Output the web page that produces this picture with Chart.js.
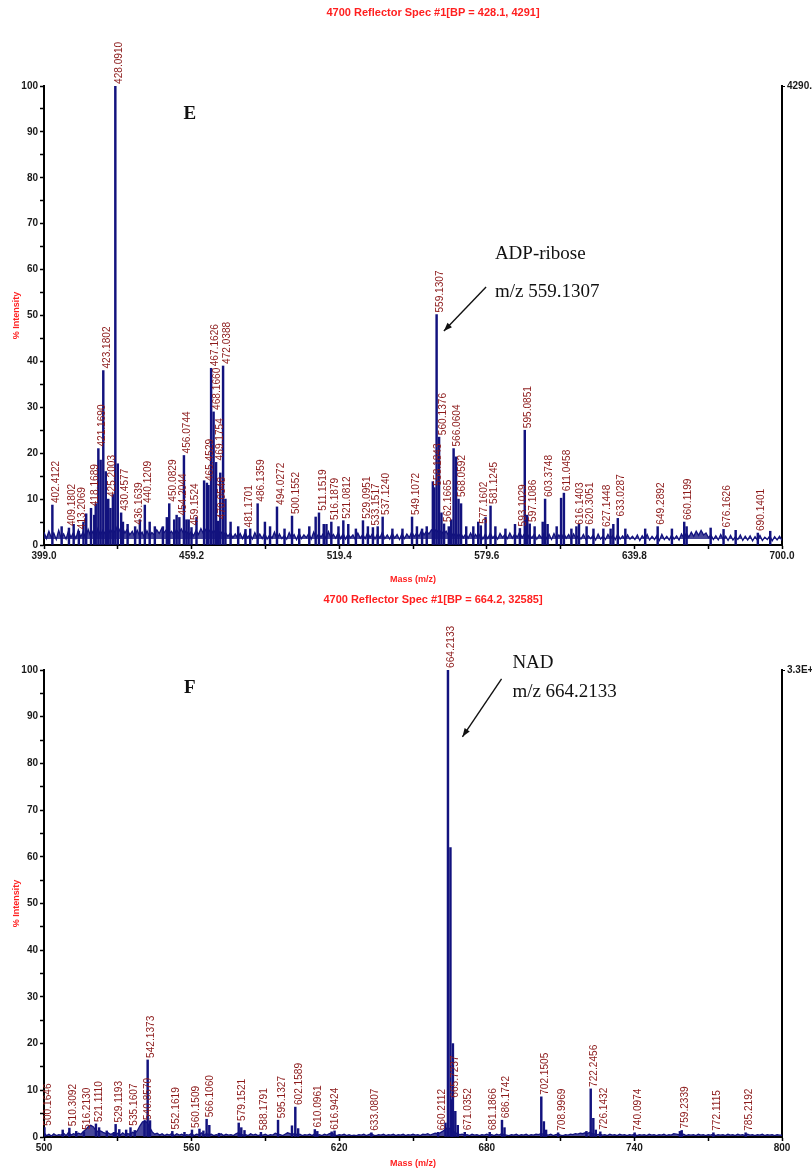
<!DOCTYPE html>
<html>
<head>
<meta charset="utf-8">
<title>MALDI spectra E and F</title>
<script src="https://cdn.jsdelivr.net/npm/chart.js@4.4.1/dist/chart.umd.min.js"></script>
<style>
  body { margin: 0; background: #fff; }
  .panel { position: absolute; left: 0; width: 812px; }
</style>
</head>
<body>
<div class="panel" style="top:0;height:585px"><canvas id="specE" width="812" height="585"></canvas></div>
<div class="panel" style="top:585px;height:584px"><canvas id="specF" width="812" height="584"></canvas></div>
<script>
// ---- panel E : 399.0 - 700.0 ----
const titleE = '4700 Reflector Spec #1[BP = 428.1, 4291]';
const xTicksE = [399.0, 429.1, 459.2, 489.3, 519.4, 549.5, 579.6, 609.7, 639.8, 669.9, 700.0];
const xTickLabelsE = ['399.0', '', '459.2', '', '519.4', '', '579.6', '', '639.8', '', '700.0'];
const rightLabelE = '4290.0';

// labelled peaks (m/z text, % intensity)
const labelledMzE = ['402.4122', '409.1802', '413.2069', '418.1689', '421.1690', '423.1802', '425.2003',
  '428.0910', '430.4577', '436.1639', '440.1209', '450.0829', '454.2044', '456.0744', '459.1524',
  '465.4529', '467.1626', '468.1660', '469.1754', '470.0548', '472.0388', '481.1701', '486.1359',
  '494.0272', '500.1552', '511.1519', '516.1879', '521.0812', '529.0951', '533.1517', '537.1240',
  '549.1072', '558.1843', '559.1307', '560.1376', '562.1665', '566.0604', '568.0592', '577.1602',
  '581.1245', '593.1029', '595.0851', '597.1086', '603.3748', '611.0458', '616.1403', '620.3051',
  '627.1448', '633.0287', '649.2892', '660.1199', '676.1626', '690.1401'];
const labelledIntE = [8.7, 3.7, 3.0, 8.0, 21, 38, 10,
  100, 7, 4, 8.7, 9, 6, 19.5, 3.8,
  13.5, 38.5, 29, 18, 5.2, 39, 3.4, 9,
  8.3, 6.3, 7, 5, 5.3, 5.3, 3.8, 6.1,
  6.1, 12.5, 50.2, 23.5, 4.6, 21, 10, 4.2,
  8.5, 3.6, 25, 4.6, 10, 11.3, 4, 4,
  3.5, 5.8, 4, 5, 3.4, 2.6];

// other sticks without a label
const otherMzE = [406.2, 411.1, 415.1, 416.2, 419.5, 420.1, 422.1, 424.2, 426.1, 427.1, 429.09, 431.2,
  433.1, 438.1, 442.1, 444.2, 447.5, 449.1, 452.1, 453.1, 457.1, 458.0, 461.2, 464.3, 466.1, 470.9,
  473.0, 475.1, 478.2, 483.1, 489.1, 491.2, 497.1, 503.1, 507.2, 509.8, 513.1, 514.2, 519.1, 523.1,
  526.2, 531.1, 535.1, 541.1, 545.2, 551.1, 553.2, 555.1, 557.6, 561.1, 564.1, 565.1, 567.06, 569.1,
  571.2, 574.1, 576.1, 579.1, 583.1, 587.2, 591.1, 596.1, 599.1, 602.4, 604.4, 608.1, 609.9, 614.1,
  617.2, 623.1, 630.1, 631.2, 636.1, 644.2, 655.1, 661.1, 670.9, 681.1, 695.2];
const otherIntE = [4, 4.5, 5, 6.8, 6.5, 9, 18.5, 16, 8, 11, 17.7, 5,
  4.5, 5.5, 5, 4, 4, 6, 5.5, 6.5, 5.5, 5.5, 6, 14, 13, 15.7,
  10, 5, 4, 3.5, 5, 4, 3.5, 3.5, 4, 6.1, 4.5, 4.5, 4, 4.5,
  3.5, 4, 4, 3.5, 3.5, 4, 3.5, 4, 13.8, 7, 4, 5.5, 19.2, 9,
  4, 4, 5, 6, 4, 3.5, 4.5, 6.5, 4, 5, 4.5, 4, 10.2, 3.5,
  4.5, 3.5, 3.5, 4.5, 3.5, 3.5, 3.5, 4, 3.7, 3.2, 3.0];

// baseline trace, one reading per m/z unit from 399
const noiseStartE = 399;
const noiseFloorE = 1.3;
const noiseE = [
  2.8, 1.4, 3.0, 1.6, 2.6, 1.2, 3.2, 1.5, 2.4, 1.3,
  3.1, 1.6, 2.7, 1.4, 3.3, 1.8, 2.9, 1.5, 3.4, 2.0,
  3.0, 1.9, 3.6, 2.2, 3.2, 2.4, 3.8, 2.6, 3.4, 2.8,
  4.2, 3.0, 3.8, 2.6, 3.5, 2.2, 3.0, 1.8, 3.2, 2.0,
  2.8, 1.6, 3.1, 1.9, 2.7, 2.2, 3.3, 2.5, 3.6, 2.7,
  3.4, 2.4, 3.0, 2.1, 3.3, 2.6, 3.5, 2.4, 3.1, 2.2,
  2.9, 2.0, 3.2, 2.3, 3.6, 2.5, 3.4, 2.7, 3.5, 2.6,
  3.3, 2.4, 3.0, 2.2, 2.7, 1.9, 2.6, 1.6, 2.4, 1.5,
  2.5, 1.4, 2.8, 1.6, 2.3, 1.3, 2.7, 1.5, 2.4, 1.4,
  2.6, 1.3, 2.2, 1.5, 2.8, 1.2, 2.4, 1.4, 2.1, 1.3,
  2.7, 1.5, 2.3, 1.2, 2.6, 1.4, 2.2, 1.6, 2.5, 1.3,
  2.8, 1.5, 2.4, 1.7, 2.6, 1.4, 2.9, 1.6, 2.3, 1.5,
  2.7, 1.4, 2.5, 1.3, 2.4, 1.6, 2.2, 1.2, 2.6, 1.5,
  2.3, 1.4, 2.7, 1.6, 2.5, 1.3, 2.4, 1.5, 2.8, 1.4,
  2.2, 1.3, 2.6, 1.5, 2.3, 1.2, 2.5, 1.4, 2.4, 1.6,
  2.9, 1.8, 2.6, 1.9, 3.2, 2.2, 3.0, 2.4, 3.3, 2.7,
  3.4, 2.6, 3.1, 2.3, 3.0, 2.1, 2.8, 1.9, 2.7, 1.8,
  2.5, 1.6, 2.4, 1.5, 2.6, 1.4, 2.3, 1.5, 2.5, 1.3,
  2.4, 1.4, 2.6, 1.5, 2.2, 1.3, 2.5, 1.6, 2.3, 1.4,
  2.6, 1.5, 2.4, 1.7, 2.8, 1.6, 2.5, 1.4, 2.3, 1.5,
  2.4, 1.3, 2.2, 1.5, 2.6, 1.4, 2.3, 1.2, 2.5, 1.4,
  2.2, 1.3, 2.5, 1.5, 2.3, 1.2, 2.4, 1.4, 2.1, 1.3,
  2.3, 1.2, 2.0, 1.4, 2.2, 1.1, 2.4, 1.3, 2.0, 1.2,
  2.3, 1.4, 2.1, 1.2, 2.4, 1.3, 2.0, 1.1, 2.2, 1.3,
  1.9, 1.2, 2.2, 1.0, 2.0, 1.3, 2.3, 1.1, 1.9, 1.2,
  2.1, 1.0, 2.3, 1.2, 1.9, 1.1, 2.2, 1.3, 2.0, 1.1,
  2.4, 1.5, 2.6, 1.7, 2.8, 1.9, 3.0, 2.1, 3.2, 2.2,
  2.6, 1.6, 2.2, 1.2, 2.0, 1.1, 2.3, 1.2, 1.9, 1.0,
  2.1, 1.1, 1.8, 1.2, 2.2, 1.0, 1.9, 1.1, 2.0, 0.9,
  1.8, 1.1, 2.1, 1.0, 1.7, 1.2, 2.0, 0.9, 1.8, 1.1,
  1.9, 1.0];

// ---- panel F : 500 - 800 ----
const titleF = '4700 Reflector Spec #1[BP = 664.2, 32585]';
const xTicksF = [500, 530, 560, 590, 620, 650, 680, 710, 740, 770, 800];
const xTickLabelsF = ['500', '', '560', '', '620', '', '680', '', '740', '', '800'];
const rightLabelF = '3.3E+4';

const labelledMzF = ['500.1646', '510.3092', '516.2130', '521.1110', '529.1193', '535.1607', '540.8570',
  '542.1373', '552.1619', '560.1509', '566.1060', '579.1521', '588.1791', '595.1327', '602.1589',
  '610.0961', '616.9424', '633.0807', '660.2112', '664.2133', '665.7237', '671.0352', '681.1866',
  '686.1742', '702.1505', '708.9969', '722.2456', '726.1432', '740.0974', '759.2339', '772.1115',
  '785.2192'];
const labelledIntF = [2.0, 1.9, 1.1, 2.8, 2.7, 2.0, 3.2,
  16.5, 1.2, 1.5, 3.8, 3.0, 1.0, 3.6, 6.4,
  1.6, 1.1, 0.9, 1.0, 100, 8, 1.0, 1.0,
  3.6, 8.6, 0.9, 10.3, 1.1, 0.9, 1.4, 0.9,
  0.9];

const otherMzF = [507.6, 513.1, 522.4, 525.5, 528.4, 530.6, 533.4, 536.9, 543.1, 557.1, 563.2, 564.8,
  567.2, 571.1, 580.2, 581.5, 600.8, 603.3, 611.1, 618.1, 663.2, 665.22, 666.22, 667.2, 668.2, 687.2,
  703.2, 704.1, 720.5, 723.3, 724.3, 758.5];
const otherIntF = [1.5, 1.2, 2.0, 1.3, 1.0, 1.6, 1.5, 1.4, 3.5, 1.0, 1.7, 1.3,
  2.5, 0.8, 2.0, 1.4, 2.4, 1.8, 1.2, 1.3, 3.0, 62, 20, 5.5, 2.5, 2.0,
  3.3, 1.5, 1.2, 4.0, 1.5, 1.2];

const noiseStartF = 500;
const noiseFloorF = 0.2;
const noiseF = [
  0.9, 0.3, 0.6, 0.2, 0.7, 0.3, 0.5, 0.4, 0.8, 0.3,
  1.0, 0.4, 0.7, 0.5, 0.8, 0.6, 1.2, 1.6, 2.2, 2.5,
  2.2, 1.5, 1.1, 1.3, 1.0, 0.8, 0.9, 0.6, 0.7, 0.5,
  0.8, 0.4, 0.9, 0.5, 0.7, 0.6, 1.0, 0.8, 1.4, 2.4,
  3.2, 3.5, 3.0, 2.0, 1.1, 0.6, 0.8, 0.4, 0.7, 0.3,
  0.6, 0.4, 0.8, 0.3, 0.7, 0.4, 0.6, 0.3, 0.5, 0.4,
  0.8, 0.3, 0.6, 0.5, 0.9, 0.4, 0.7, 0.5, 0.6, 0.3,
  0.5, 0.4, 0.7, 0.3, 0.6, 0.4, 0.5, 0.3, 0.7, 0.9,
  0.6, 0.4, 0.5, 0.3, 0.7, 0.4, 0.6, 0.3, 0.5, 0.4,
  0.6, 0.3, 0.5, 0.4, 0.8, 0.6, 0.5, 0.3, 0.6, 0.9,
  0.7, 0.5, 0.8, 0.4, 0.6, 0.3, 0.5, 0.4, 0.6, 0.3,
  0.7, 0.4, 0.5, 0.3, 0.6, 0.4, 0.7, 0.8, 0.5, 0.3,
  0.5, 0.4, 0.6, 0.3, 0.5, 0.3, 0.4, 0.3, 0.5, 0.4,
  0.6, 0.3, 0.5, 0.7, 0.4, 0.3, 0.5, 0.4, 0.6, 0.3,
  0.5, 0.4, 0.6, 0.3, 0.5, 0.4, 0.6, 0.3, 0.5, 0.4,
  0.6, 0.4, 0.5, 0.3, 0.6, 0.5, 0.7, 0.4, 0.6, 0.8,
  0.7, 0.9, 1.2, 1.6, 2.0, 1.8, 1.4, 1.0, 0.7, 0.5,
  0.6, 0.4, 0.5, 0.3, 0.6, 0.4, 0.5, 0.3, 0.5, 0.4,
  0.6, 0.4, 0.5, 0.3, 0.6, 0.4, 0.7, 0.5, 0.4, 0.3,
  0.5, 0.4, 0.6, 0.3, 0.5, 0.4, 0.6, 0.3, 0.5, 0.4,
  0.6, 0.5, 0.7, 0.6, 0.5, 0.4, 0.6, 0.3, 0.5, 0.6,
  0.4, 0.3, 0.5, 0.4, 0.6, 0.5, 0.7, 0.6, 0.8, 0.7,
  0.9, 0.8, 1.0, 0.7, 0.6, 0.5, 0.6, 0.4, 0.5, 0.3,
  0.6, 0.4, 0.5, 0.3, 0.6, 0.4, 0.5, 0.3, 0.5, 0.4,
  0.6, 0.3, 0.5, 0.4, 0.5, 0.3, 0.6, 0.4, 0.5, 0.3,
  0.5, 0.4, 0.6, 0.3, 0.5, 0.4, 0.7, 0.6, 0.5, 0.4,
  0.6, 0.3, 0.5, 0.4, 0.5, 0.3, 0.6, 0.4, 0.5, 0.3,
  0.5, 0.4, 0.6, 0.3, 0.5, 0.4, 0.5, 0.3, 0.6, 0.4,
  0.5, 0.3, 0.6, 0.4, 0.5, 0.3, 0.6, 0.4, 0.5, 0.3,
  0.5, 0.4, 0.6, 0.3, 0.5, 0.4, 0.5, 0.3, 0.5, 0.4,
  0.4];

// annotations, placed in data units (m/z, %)
const notesE = [
  { text: 'E', m: 458.5, v: 93.9, font: 'bold 19px "Liberation Serif", serif', align: 'center' },
  { text: 'ADP-ribose', m: 582.9, v: 63.4, font: '19px "Liberation Serif", serif', align: 'left' },
  { text: 'm/z 559.1307', m: 582.9, v: 55.1, font: '19px "Liberation Serif", serif', align: 'left' }
];
const arrowE = { m0: 579.3, v0: 56.2, m1: 562.1, v1: 46.6 };
const notesF = [
  { text: 'F', m: 559.3, v: 96.1, font: 'bold 19px "Liberation Serif", serif', align: 'center' },
  { text: 'NAD', m: 690.4, v: 101.5, font: '19px "Liberation Serif", serif', align: 'left' },
  { text: 'm/z 664.2133', m: 690.4, v: 95.3, font: '19px "Liberation Serif", serif', align: 'left' }
];
const arrowF = { m0: 686.0, v0: 98.1, m1: 670.1, v1: 85.7 };

const navy = '#12127e';
const labelRed = '#8c1a1a';
const axisFont = { family: '"Liberation Sans", Arial, sans-serif', size: 10, weight: 'bold' };
const titleFont = { family: '"Liberation Sans", Arial, sans-serif', size: 9, weight: 'bold' };

function sticks(mz, ints) {
  return mz.map((m, i) => ({ x: parseFloat(m), y: ints[i] }));
}

function trace(start, vals) {
  return vals.map((v, i) => ({ x: start + i, y: v }));
}

function peakLabelPlugin(mz, ints) {
  return {
    id: 'peakLabels',
    afterDatasetsDraw(chart) {
      const { ctx, scales: { x, y } } = chart;
      ctx.save();
      ctx.fillStyle = labelRed;
      ctx.font = '11px "Liberation Sans", Arial, sans-serif';
      ctx.textAlign = 'left';
      ctx.textBaseline = 'middle';
      mz.forEach((t, i) => {
        const px = x.getPixelForValue(parseFloat(t));
        const py = y.getPixelForValue(ints[i]);
        ctx.save();
        ctx.translate(px + 3.5, py - 2);
        ctx.rotate(-Math.PI / 2);
        ctx.scale(0.92, 1);
        ctx.fillText(t, 0, 0);
        ctx.restore();
      });
      ctx.restore();
    }
  };
}

function notePlugin(title, titleY, notes, arrow) {
  return {
    id: 'notes',
    afterDraw(chart) {
      const { ctx, scales: { x, y } } = chart;
      ctx.save();
      ctx.fillStyle = '#ff1f1f';
      ctx.font = 'bold 11px "Liberation Sans", Arial, sans-serif';
      ctx.textAlign = 'center';
      ctx.textBaseline = 'middle';
      ctx.fillText(title, 433, titleY);

      ctx.fillStyle = '#111';
      notes.forEach(n => {
        ctx.font = n.font;
        ctx.textAlign = n.align;
        ctx.fillText(n.text, x.getPixelForValue(n.m), y.getPixelForValue(n.v));
      });

      const x0 = x.getPixelForValue(arrow.m0), y0 = y.getPixelForValue(arrow.v0);
      const x1 = x.getPixelForValue(arrow.m1), y1 = y.getPixelForValue(arrow.v1);
      const a = Math.atan2(y1 - y0, x1 - x0);
      ctx.strokeStyle = '#111';
      ctx.lineWidth = 1.4;
      ctx.beginPath();
      ctx.moveTo(x0, y0);
      ctx.lineTo(x1, y1);
      ctx.stroke();
      ctx.beginPath();
      ctx.moveTo(x1, y1);
      ctx.lineTo(x1 - 9 * Math.cos(a - 0.35), y1 - 9 * Math.sin(a - 0.35));
      ctx.lineTo(x1 - 9 * Math.cos(a + 0.35), y1 - 9 * Math.sin(a + 0.35));
      ctx.closePath();
      ctx.fillStyle = '#111';
      ctx.fill();
      ctx.restore();
    }
  };
}

function buildSpectrum(id, s) {
  return new Chart(document.getElementById(id), {
    type: 'bar',
    data: {
      datasets: [
        {
          type: 'bar',
          label: 'peaks',
          data: sticks(s.labelledMz, s.labelledInt).concat(sticks(s.otherMz, s.otherInt)),
          backgroundColor: navy,
          barThickness: 1.8,
          grouped: false,
          order: 1
        },
        {
          type: 'line',
          label: 'baseline',
          data: trace(s.noiseStart, s.noise),
          borderColor: navy,
          borderWidth: 1.3,
          backgroundColor: 'rgba(24, 24, 130, 0.8)',
          fill: { value: s.noiseFloor },
          pointRadius: 0,
          tension: 0,
          order: 2
        }
      ]
    },
    options: {
      responsive: false,
      animation: false,
      devicePixelRatio: 1,
      layout: { padding: { top: s.top, left: 0, right: 0, bottom: 0 } },
      plugins: {
        legend: { display: false },
        tooltip: { enabled: false },
        title: { display: false }
      },
      scales: {
        x: {
          type: 'linear',
          min: s.xTicks[0],
          max: s.xTicks[s.xTicks.length - 1],
          offset: false,
          afterBuildTicks: sc => { sc.ticks = s.xTicks.map(v => ({ value: v })); },
          afterFit: sc => { sc.height = s.xBox; },
          ticks: {
            autoSkip: false,
            maxRotation: 0,
            padding: 1,
            color: '#1a1a1a',
            font: axisFont,
            callback: (v, i) => s.xTickLabels[i]
          },
          grid: { drawOnChartArea: false, offset: false, tickLength: 4, color: '#000', tickWidth: 1.5 },
          border: { display: true, color: '#000', width: 2 },
          title: { display: true, text: 'Mass (m/z)', color: '#ff2020', font: titleFont, padding: { top: 3, bottom: 0 } }
        },
        y: {
          type: 'linear',
          min: 0,
          max: 100,
          afterFit: sc => { sc.width = 44; },
          ticks: {
            stepSize: 5,
            padding: 2,
            color: '#1a1a1a',
            font: axisFont,
            callback: v => (v % 10 === 0 ? v : '')
          },
          grid: { drawOnChartArea: false, tickLength: 4, color: '#000', tickWidth: 1.5 },
          border: { display: true, color: '#000', width: 2 },
          title: { display: true, text: '% Intensity', color: '#ff2020', font: titleFont, padding: { top: 11, bottom: 0 } }
        },
        y2: {
          type: 'linear',
          position: 'right',
          min: 0,
          max: 100,
          afterBuildTicks: sc => { sc.ticks = [{ value: 100 }]; },
          afterFit: sc => { sc.width = 30; },
          ticks: { padding: 2, color: '#1a1a1a', font: axisFont, callback: () => s.rightLabel },
          grid: { drawOnChartArea: false, tickLength: 3, color: '#000' },
          border: { display: true, color: '#000', width: 2 }
        }
      }
    },
    plugins: [peakLabelPlugin(s.labelledMz, s.labelledInt), notePlugin(s.title, s.titleY, s.notes, s.arrow)]
  });
}

buildSpectrum('specE', {
  title: titleE, titleY: 13, top: 86, xBox: 40,
  xTicks: xTicksE, xTickLabels: xTickLabelsE, rightLabel: rightLabelE,
  labelledMz: labelledMzE, labelledInt: labelledIntE, otherMz: otherMzE, otherInt: otherIntE,
  noiseStart: noiseStartE, noiseFloor: noiseFloorE, noise: noiseE, notes: notesE, arrow: arrowE
});

buildSpectrum('specF', {
  title: titleF, titleY: 15, top: 85, xBox: 32,
  xTicks: xTicksF, xTickLabels: xTickLabelsF, rightLabel: rightLabelF,
  labelledMz: labelledMzF, labelledInt: labelledIntF, otherMz: otherMzF, otherInt: otherIntF,
  noiseStart: noiseStartF, noiseFloor: noiseFloorF, noise: noiseF, notes: notesF, arrow: arrowF
});
</script>
</body>
</html>
